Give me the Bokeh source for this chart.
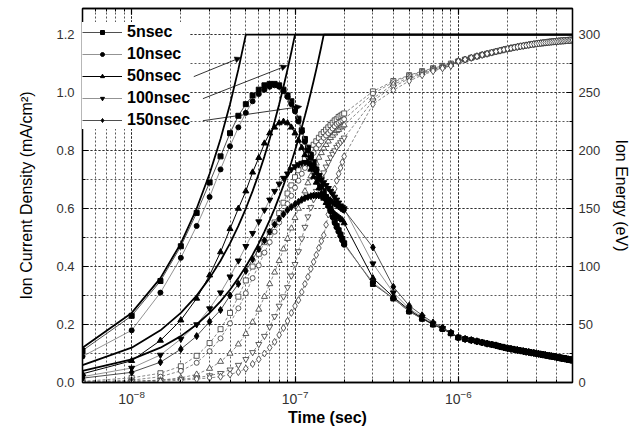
import numpy as np
from bokeh.plotting import figure
from bokeh.models import (Range1d, LinearAxis, LogAxis, LogTicker, SingleIntervalTicker,
                          PrintfTickFormatter, Legend, LegendItem, Arrow, NormalHead)
from bokeh.embed import file_html
from bokeh.resources import INLINE

FONT = "Liberation Sans"

# ---------------- data (times in ns) ----------------
t_fine = [5, 10, 15, 20, 25, 30, 35, 40, 45, 50, 55, 60, 65, 70, 75, 80, 85, 90, 95, 100,
          105, 110, 115, 120, 125, 130, 135, 140, 145, 150, 155, 160, 165, 170, 175, 180,
          185, 190, 195, 200]
t_mid = [300, 400, 500, 600, 700, 800, 900]
t_tail = [1000, 1100, 1200, 1300, 1400, 1500, 1600, 1700, 1800, 1900, 2000, 2100, 2200,
          2300, 2400, 2500, 2600, 2700, 2800, 2900, 3000, 3100, 3200, 3300, 3400, 3500,
          3600, 3700, 3800, 3900, 4000, 4100, 4200, 4300, 4400, 4500, 4600, 4700, 4800,
          4900, 5000]
t_end = [5000]

labels = ["5nsec", "10nsec", "50nsec", "100nsec", "150nsec"]

# Ion current density (mA/cm^2), filled markers
cur_5_early = [0.11, 0.23, 0.35, 0.47, 0.585, 0.69, 0.78, 0.86, 0.92, 0.96, 0.99, 1.01, 1.025,
               1.03, 1.03, 1.025, 1.01, 0.99, 0.97, 0.945, 0.91, 0.87, 0.84, 0.81, 0.785, 0.76,
               0.735, 0.71, 0.685, 0.66, 0.64, 0.62, 0.60, 0.58, 0.56, 0.54, 0.525, 0.51,
               0.495, 0.48]
cur_10_early = [0.09, 0.18, 0.31, 0.43, 0.54, 0.64, 0.735, 0.815, 0.88, 0.93, 0.97, 0.995,
                1.01, 1.02, 1.025, 1.02, 1.005, 0.985, 0.96, 0.935, 0.90, 0.865, 0.83, 0.80,
                0.775, 0.75, 0.725, 0.70, 0.675, 0.65, 0.63, 0.61, 0.59, 0.57, 0.55, 0.535,
                0.52, 0.505, 0.49, 0.475]
cur_50_early = [0.03, 0.075, 0.145, 0.215, 0.29, 0.37, 0.45, 0.53, 0.60, 0.66, 0.725, 0.775,
                0.825, 0.86, 0.88, 0.895, 0.90, 0.895, 0.88, 0.86, 0.835, 0.81, 0.785, 0.76,
                0.735, 0.71, 0.69, 0.67, 0.65, 0.635, 0.62, 0.61, 0.60, 0.59, 0.58, 0.575,
                0.57, 0.565, 0.56, 0.55]
cur_100_early = [0.02, 0.05, 0.095, 0.15, 0.20, 0.255, 0.31, 0.365, 0.42, 0.47, 0.515, 0.555,
                 0.595, 0.63, 0.66, 0.685, 0.705, 0.72, 0.735, 0.745, 0.752, 0.757, 0.76,
                 0.757, 0.75, 0.74, 0.728, 0.715, 0.70, 0.69, 0.68, 0.67, 0.66, 0.65, 0.64,
                 0.63, 0.62, 0.61, 0.605, 0.60]
cur_150_early = [0.015, 0.035, 0.07, 0.115, 0.16, 0.21, 0.25, 0.30, 0.34, 0.385, 0.425, 0.46,
                 0.49, 0.52, 0.545, 0.565, 0.58, 0.595, 0.605, 0.615, 0.623, 0.63, 0.636,
                 0.64, 0.643, 0.645, 0.645, 0.645, 0.643, 0.64, 0.636, 0.632, 0.627, 0.622,
                 0.617, 0.612, 0.607, 0.602, 0.598, 0.595]
cur_5_mid = [0.34, 0.29, 0.245, 0.22, 0.20, 0.185, 0.17]
cur_10_mid = [0.345, 0.29, 0.245, 0.22, 0.20, 0.185, 0.17]
cur_50_mid = [0.36, 0.295, 0.25, 0.222, 0.201, 0.186, 0.17]
cur_100_mid = [0.41, 0.31, 0.255, 0.226, 0.203, 0.187, 0.171]
cur_150_mid = [0.466, 0.33, 0.265, 0.232, 0.207, 0.19, 0.172]
cur_tail = [0.155, 0.150, 0.146, 0.142, 0.138, 0.134, 0.131, 0.128, 0.124, 0.121, 0.118,
            0.116, 0.114, 0.112, 0.110, 0.108, 0.106, 0.105, 0.103, 0.102, 0.100, 0.099,
            0.097, 0.096, 0.095, 0.093, 0.092, 0.091, 0.090, 0.089, 0.087, 0.086, 0.085,
            0.084, 0.083, 0.082, 0.081, 0.080, 0.079, 0.078, 0.077]

# Ion energy (eV), open markers
en_5_early = [1, 4, 8, 14, 23, 34, 46, 60, 74, 88, 100, 111, 121, 130, 138, 146, 155, 163, 170,
              177, 183, 188, 193, 197, 201, 205, 208, 211, 214, 216, 218, 220, 222, 224, 226,
              227, 229, 230, 231, 232]
en_10_early = [0.5, 2, 5, 10, 17, 27, 38, 51, 64, 77, 90, 101, 112, 121, 130, 138, 146, 154,
               161, 168, 174, 180, 185, 190, 194, 198, 202, 205, 208, 211, 213, 215, 217, 219,
               221, 223, 224, 225, 226, 227]
en_50_early = [0, 1, 2, 4, 7, 12, 18, 25, 33, 42, 52, 63, 74, 85, 95, 105, 115, 124, 133, 142,
               150, 158, 165, 172, 178, 184, 189, 194, 198, 202, 205, 208, 211, 213, 215, 217,
               218, 220, 221, 222]
en_100_early = [0, 1, 2, 3, 4, 6, 8, 11, 15, 20, 26, 33, 40, 48, 57, 66, 74, 82, 92, 102, 113,
                124, 134, 143, 151, 158, 165, 171, 176, 181, 186, 190, 194, 197, 200, 203, 205,
                207, 209, 211]
en_150_early = [0, 0, 1, 2, 3, 4, 5, 7, 9, 12, 16, 20, 25, 30, 35, 41, 47, 53, 60, 66, 71, 78,
                85, 91, 98, 104, 110, 116, 122, 127, 136, 145, 153, 160, 167, 174, 180, 185,
                190, 195]
en_5_mid = [251, 260, 265, 268.5, 271, 273, 275]
en_10_mid = [249, 259, 264.5, 268, 270.5, 272.5, 274.5]
en_50_mid = [245, 257, 263, 267, 270, 272, 274]
en_100_mid = [243, 255, 262, 266, 269.5, 271.5, 273.5]
en_150_mid = [240, 252, 260, 265, 268.5, 271, 273]
en_tail = [277, 278.5, 280, 281.3, 282.5, 283.5, 284.5, 285.4, 286.2, 287, 287.7, 288.3, 288.9,
           289.4, 289.9, 290.3, 290.7, 291.1, 291.5, 291.8, 292.1, 292.4, 292.6, 292.9, 293.1,
           293.3, 293.5, 293.7, 293.9, 294.0, 294.2, 294.3, 294.5, 294.6, 294.7, 294.8, 294.9,
           295.0, 295.1, 295.2, 295.3]

# Applied voltage ramps (solid lines, left-axis units)
ramp50 = [0.12, 0.24, 0.36, 0.48, 0.60, 0.72, 0.84, 0.96, 1.08, 1.20]
ramp100 = [0.06, 0.12, 0.18, 0.24, 0.30, 0.36, 0.42, 0.48, 0.54, 0.60, 0.66, 0.72, 0.78, 0.84,
           0.90, 0.96, 1.02, 1.08, 1.14, 1.20]
ramp150 = [0.04, 0.08, 0.12, 0.16, 0.20, 0.24, 0.28, 0.32, 0.36, 0.40, 0.44, 0.48, 0.52, 0.56,
           0.60, 0.64, 0.68, 0.72, 0.76, 0.80, 0.84, 0.88, 0.92, 0.96, 1.00, 1.04, 1.08, 1.12,
           1.16, 1.20]
plateau = [1.20]

# legend arrows: (label, t_start_ns, j_start, t_end_ns, j_end)
arrows = [("50nsec", 24.0, 1.055, 46.6, 1.121),
          ("100nsec", 27.3, 0.979, 89.3, 1.093),
          ("150nsec", 27.3, 0.903, 110.0, 0.952)]

# ---------------- figure ----------------
NS = 1e-9
t_all = np.array(t_fine + t_mid + t_tail) * NS

p = figure(width=637, height=434, x_axis_type="log",
           x_range=Range1d(5e-9, 5e-6), y_range=Range1d(0, 1.29),
           output_backend="svg", toolbar_location=None,
           min_border_left=82, min_border_right=65, min_border_top=8, min_border_bottom=52,
           background_fill_color="white", border_fill_color="white")
p.extra_y_ranges = {"energy": Range1d(0, 322.5)}
p.outline_line_color = "black"
p.outline_line_width = 1.3

def style_axis(ax):
    ax.axis_line_color = "black"
    ax.axis_line_width = 1.3
    ax.major_tick_in = 6
    ax.major_tick_out = 0
    ax.minor_tick_in = 3
    ax.minor_tick_out = 0
    ax.major_tick_line_color = "black"
    ax.minor_tick_line_color = "black"
    ax.major_tick_line_width = 1.2
    ax.major_label_text_font = FONT
    ax.major_label_text_color = "#333333"
    ax.axis_label_text_font = FONT
    ax.axis_label_text_color = "black"
    ax.axis_label_text_font_style = "normal"
    ax.axis_label_text_font_size = "16px"

# left
yax = p.yaxis[0]
yax.ticker = SingleIntervalTicker(interval=0.2, num_minor_ticks=2)
yax.formatter = PrintfTickFormatter(format="%.1f")
style_axis(yax)
yax.major_label_text_font_size = "13px"
yax.major_label_standoff = 8
yax.axis_label = "Ion Current Density (mA/cm²)"
yax.axis_label_standoff = 18

# bottom
xax = p.xaxis[0]
xax.ticker = LogTicker(num_minor_ticks=10)
style_axis(xax)
xax.major_label_text_font_size = "14px"
xax.major_label_standoff = 7
xax.axis_label = "Time (sec)"
xax.axis_label_text_font_style = "bold"
xax.axis_label_standoff = 2

# right
rax = LinearAxis(y_range_name="energy",
                 ticker=SingleIntervalTicker(interval=50, num_minor_ticks=2),
                 axis_label="Ion Energy (eV)")
style_axis(rax)
rax.major_label_text_font_size = "13px"
rax.major_label_standoff = 6
rax.axis_label_standoff = 10
p.add_layout(rax, "right")

# top (ticks only)
tax = LogAxis(ticker=LogTicker(num_minor_ticks=10))
style_axis(tax)
tax.major_label_text_font_size = "2px"
tax.major_label_text_alpha = 0.0
tax.major_label_standoff = 0
p.add_layout(tax, "above")

# grids
for g in (p.xgrid[0], p.ygrid[0]):
    g.grid_line_color = "#222222"
    g.grid_line_dash = "2 2"
    g.grid_line_width = 1
    g.grid_line_alpha = 0.75
    g.minor_grid_line_color = "#222222"
    g.minor_grid_line_dash = "2 2"
    g.minor_grid_line_width = 1
    g.minor_grid_line_alpha = 0.75

# ---------------- energy (open markers) ----------------
en_sets = [
    (en_5_early + en_5_mid + en_tail, "square", 5),
    (en_10_early + en_10_mid + en_tail, "circle", 5),
    (en_50_early + en_50_mid + en_tail, "triangle", 6),
    (en_100_early + en_100_mid + en_tail, "inverted_triangle", 6),
    (en_150_early + en_150_mid + en_tail, "diamond", 7),
]
for vals, mk, sz in en_sets:
    p.line(t_all, vals, y_range_name="energy", line_color="#555555", line_width=0.7,
           line_dash="3 2")
    p.scatter(t_all, vals, y_range_name="energy", marker=mk, size=sz, fill_color="white",
              line_color="#333333", line_width=0.8)

# ---------------- current density (filled markers) ----------------
cur_sets = [
    (cur_5_early + cur_5_mid + cur_tail, "square", 5, "#222222", 0.8),
    (cur_10_early + cur_10_mid + cur_tail, "circle", 5, "#777777", 0.8),
    (cur_50_early + cur_50_mid + cur_tail, "triangle", 6, "#000000", 1.0),
    (cur_100_early + cur_100_mid + cur_tail, "inverted_triangle", 6, "#777777", 0.8),
    (cur_150_early + cur_150_mid + cur_tail, "diamond", 7, "#222222", 0.8),
]
items = []
for (vals, mk, sz, lc, lw), lab in zip(cur_sets, labels):
    lr = p.line(t_all, vals, line_color=lc, line_width=lw)
    sr = p.scatter(t_all, vals, marker=mk, size=sz, fill_color="black", line_color="black")
    items.append(LegendItem(label=lab, renderers=[lr, sr]))

# ---------------- voltage ramps ----------------
for ramp in (ramp50, ramp100, ramp150):
    tt = np.array(t_fine[:len(ramp)] + t_end) * NS
    p.line(tt, ramp + plateau, line_color="black", line_width=1.8)

# ---------------- arrows ----------------
for lab, ts, js, te, je in arrows:
    p.add_layout(Arrow(end=NormalHead(size=6, fill_color="black", line_color="black",
                                      line_width=0.5),
                       x_start=ts * NS, y_start=js, x_end=te * NS, y_end=je,
                       line_color="black", line_width=0.8))

legend = Legend(items=items, location=(0, 253), glyph_width=40, glyph_height=10,
                label_height=19, spacing=3, padding=3, label_standoff=5,
                border_line_color=None, background_fill_color="white",
                background_fill_alpha=1.0, label_text_font=FONT,
                label_text_font_style="bold", label_text_font_size="16px",
                label_text_color="black")
p.add_layout(legend)

open("out.html", "w").write(file_html(p, INLINE))
